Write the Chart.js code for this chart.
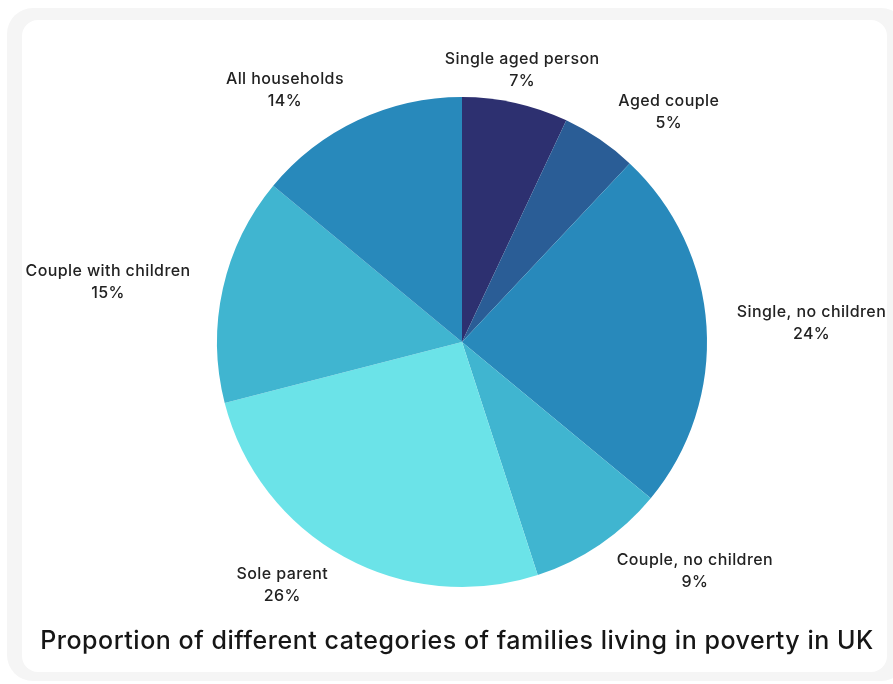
<!DOCTYPE html>
<html>
<head>
<meta charset="utf-8">
<script src="https://cdn.jsdelivr.net/npm/chart.js@4.4.0/dist/chart.umd.min.js"></script>
<style>
  html, body { margin: 0; padding: 0; background: #ffffff; }
  body { width: 893px; height: 684px; position: relative; overflow: hidden; font-family: Inter, "Noto Sans", sans-serif; }
  .shadow { position: absolute; left: 7px; top: 8px; width: 900px; height: 673px; background: #f5f5f5; border-radius: 26px; }
  .card { position: absolute; left: 22px; top: 20px; width: 865px; height: 652px; background: #fff; border-radius: 16px; }
  #wrap { position: absolute; left: 0; top: 0; width: 893px; height: 684px; }
  .title { position: absolute; left: 0; width: 893px; top: 625px; text-align: center; font-size: 25px; font-weight: 500; color: #161616; letter-spacing: 0.53px; padding-left: 21px; box-sizing: border-box; }
</style>
</head>
<body>
<div class="shadow"></div>
<div class="card"></div>
<div id="wrap"><canvas id="pie" width="893" height="684"></canvas></div>
<div class="title">Proportion of different categories of families living in poverty in UK</div>
<script>
const categories = ["Single aged person", "Aged couple", "Single, no children", "Couple, no children", "Sole parent", "Couple with children", "All households"];
const percents = [7, 5, 24, 9, 26, 15, 14];
const sliceColors = ["#2d3070", "#2a5d96", "#2889bb", "#40b5d0", "#6be3e8", "#40b5d0", "#2889bb"];

// label placement around the pie: [angle from 12 o'clock in degrees, distance from centre]
const labelPlace = [[12.5, 278], [42, 309], [87, 350], [134.6, 327], [216.5, 302], [279.6, 359], [324.9, 308]];

const labelPlugin = {
  id: "sliceLabels",
  afterDatasetsDraw(chart) {
    const ctx = chart.ctx;
    const arcs = chart.getDatasetMeta(0).data;
    ctx.save();
    ctx.font = "500 16px Inter, 'Noto Sans', sans-serif";
    ctx.letterSpacing = "0.4px";
    ctx.fillStyle = "#222";
    ctx.textAlign = "center";
    ctx.textBaseline = "middle";
    arcs.forEach((arc, i) => {
      const a = labelPlace[i][0] * Math.PI / 180;
      const x = arc.x + labelPlace[i][1] * Math.sin(a);
      const y = arc.y - labelPlace[i][1] * Math.cos(a);
      ctx.fillText(categories[i], x, y - 11);
      ctx.fillText(percents[i] + "%", x, y + 11);
    });
    ctx.restore();
  }
};

new Chart(document.getElementById("pie"), {
  type: "pie",
  data: {
    labels: categories,
    datasets: [{
      data: percents,
      backgroundColor: sliceColors,
      borderWidth: 0
    }]
  },
  options: {
    responsive: false,
    animation: false,
    layout: { padding: { top: 97, bottom: 97, left: 217, right: 186 } },
    plugins: {
      legend: { display: false },
      tooltip: { enabled: false }
    }
  },
  plugins: [labelPlugin]
});
</script>
</body>
</html>
